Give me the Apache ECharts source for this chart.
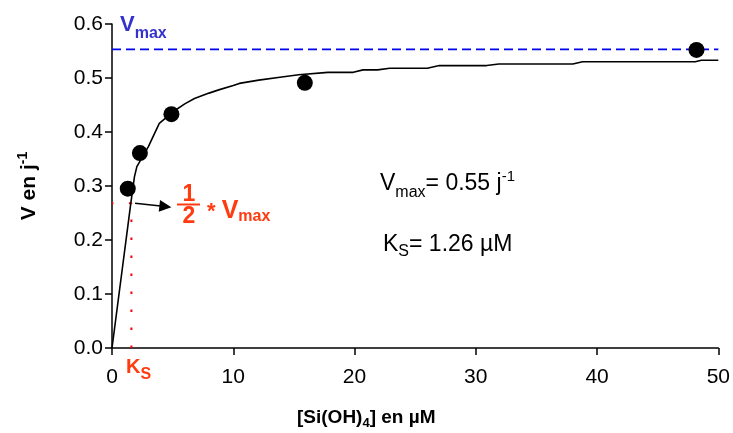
<!DOCTYPE html>
<html>
<head>
<meta charset="utf-8">
<script src="https://cdn.jsdelivr.net/npm/echarts@6/dist/echarts.min.js"></script>
<style>
html,body{margin:0;padding:0;background:#fff;}
#chart{width:733px;height:433px;}
</style>
</head>
<body>
<div id="chart"></div>
<script>
// ---- data ----
const pointS = [1.3, 2.3, 4.9, 15.9, 48.2];
const pointV = [0.295, 0.361, 0.433, 0.491, 0.552];
const fitS = [0, 1.55, 1.85, 2.05, 3, 3.9, 5, 6, 6.8, 8, 8.8, 10, 10.5, 12.1, 14, 15.4, 17.8, 19.9, 20.7, 21.9, 22.9, 26, 27, 30.9, 31.9, 38, 38.8, 48.1, 48.6, 50];
const fitV = [0, 0.268, 0.317, 0.336, 0.373, 0.416, 0.437, 0.452, 0.462, 0.472, 0.478, 0.486, 0.49, 0.496, 0.502, 0.506, 0.5105, 0.5105, 0.515, 0.515, 0.518, 0.518, 0.523, 0.523, 0.526, 0.526, 0.53, 0.53, 0.533, 0.533];
const vmaxLine = 0.553;
const halfVmax = 0.268;
const ksPos = 1.6;
const arrowFrom = [1.9, 0.268];
const arrowTo = [4.4, 0.262];
const xTicks = [0, 10, 20, 30, 40, 50];
const yTicks = [0, 0.1, 0.2, 0.3, 0.4, 0.5, 0.6];

const FONT = '"Liberation Sans", Arial, sans-serif';
const RED = '#ff3b10';
const BLUE = '#3333cc';

const cv = document.createElement('canvas').getContext('2d');
function measure(t, size, bold) {
  cv.font = (bold ? 'bold ' : '') + size + 'px ' + FONT;
  return cv.measureText(t).width;
}
// pieces: {t, size, bold, dy, color}; returns graphic elements
function textRun(x0, baseY, pieces, align) {
  let total = 0;
  pieces.forEach(p => { p.w = measure(p.t, p.size, p.bold); total += p.w; });
  let x = align === 'center' ? x0 - total / 2 : x0;
  const els = [];
  pieces.forEach(p => {
    els.push({
      type: 'text', x: x, y: baseY + (p.dy || 0) - 0.35 * p.size, silent: true,
      style: {
        text: p.t, fontFamily: FONT, fontSize: p.size, fontWeight: p.bold ? 'bold' : 'normal',
        fill: p.color || '#000', align: 'left', verticalAlign: 'middle'
      }
    });
    x += p.w;
  });
  return els;
}

const chart = echarts.init(document.getElementById('chart'), null, {renderer: 'canvas'});

const graphics = [];
// Vmax label (blue)
textRun(120, 33, [
  {t: 'V', size: 22, bold: true, color: BLUE},
  {t: 'max', size: 16, bold: true, color: BLUE, dy: 6}
], 'left').forEach(e => graphics.push(e));
// 1/2 * Vmax (red)
textRun(189, 203, [{t: '1', size: 23, bold: true, color: RED}], 'center').forEach(e => graphics.push(e));
textRun(189, 225, [{t: '2', size: 23, bold: true, color: RED}], 'center').forEach(e => graphics.push(e));
graphics.push({type: 'rect', shape: {x: 177, y: 203.5, width: 23, height: 2}, style: {fill: RED}, silent: true});
textRun(207, 220, [
  {t: '* ', size: 22, bold: true, color: RED},
  {t: 'V', size: 25, bold: true, color: RED},
  {t: 'max', size: 16, bold: true, color: RED, dy: 2}
], 'left').forEach(e => graphics.push(e));
// Ks label under axis
textRun(126, 374, [
  {t: 'K', size: 20, bold: true, color: RED},
  {t: 'S', size: 16, bold: true, color: RED, dy: 6}
], 'left').forEach(e => graphics.push(e));
// middle texts
textRun(380, 192, [
  {t: 'V', size: 23},
  {t: 'max', size: 16, dy: 6},
  {t: '= 0.55 j', size: 23},
  {t: '-1', size: 15, dy: -10}
], 'left').forEach(e => graphics.push(e));
textRun(383, 253, [
  {t: 'K', size: 23},
  {t: 'S', size: 16, dy: 4},
  {t: '= 1.26 \u00b5M', size: 23}
], 'left').forEach(e => graphics.push(e));
// x axis name
textRun(297, 424, [
  {t: '[Si(OH)', size: 19, bold: true},
  {t: '4', size: 13, bold: true, dy: 4},
  {t: '] en \u00b5M', size: 19, bold: true}
], 'left').forEach(e => graphics.push(e));
// y axis name (rotated)
graphics.push({
  type: 'group', x: 37, y: 186, rotation: Math.PI / 2,
  children: textRun(0, 0, [
    {t: 'V en j', size: 21, bold: true},
    {t: '-1', size: 14, bold: true, dy: -9}
  ], 'center')
});

const option = {
  animation: false,
  backgroundColor: '#fff',
  grid: {left: 112, top: 24, right: 9.5, bottom: 85, containLabel: false},
  xAxis: {
    type: 'value', min: xTicks[0], max: xTicks[xTicks.length - 1], interval: 10,
    splitLine: {show: false},
    axisLine: {lineStyle: {color: '#000', width: 1.5}, onZero: false},
    axisTick: {show: true, length: 7, lineStyle: {color: '#000', width: 1.5}},
    axisLabel: {color: '#000', fontSize: 21, fontFamily: FONT, margin: 19}
  },
  yAxis: {
    type: 'value', min: yTicks[0], max: yTicks[yTicks.length - 1], interval: 0.1,
    splitLine: {show: false},
    axisLine: {show: true, lineStyle: {color: '#000', width: 1.5}, onZero: false},
    axisTick: {show: true, length: 7, lineStyle: {color: '#000', width: 1.5}},
    axisLabel: {color: '#000', fontSize: 21, fontFamily: FONT, margin: 9, formatter: v => v.toFixed(1)}
  },
  series: [
    {
      type: 'line', data: [[xTicks[0], vmaxLine], [xTicks[xTicks.length - 1], vmaxLine]],
      symbol: 'none', lineStyle: {color: '#0000ee', width: 1.6, type: [9, 5]}, z: 1
    },
    {
      type: 'line', data: [[ksPos, halfVmax], [0, halfVmax]],
      symbol: 'none', lineStyle: {color: '#ff0000', width: 2, type: [2.5, 15.5]}, z: 1
    },
    {
      type: 'line', data: [[ksPos, 0], [ksPos, halfVmax]],
      symbol: 'none', lineStyle: {color: '#ff0000', width: 2, type: [2.5, 15.5]}, z: 1
    },
    {
      type: 'line', data: fitS.map((s, i) => [s, fitV[i]]),
      symbol: 'none', smooth: false, lineStyle: {color: '#000', width: 1.6}, z: 2,
      markLine: {
        silent: true, symbol: ['none', 'triangle'], symbolSize: [12, 12],
        label: {show: false},
        lineStyle: {color: '#000', width: 1.5, type: 'solid'},
        data: [[{coord: arrowFrom}, {coord: arrowTo}]]
      }
    },
    {
      type: 'scatter', data: pointS.map((s, i) => [s, pointV[i]]),
      symbol: 'circle', symbolSize: 16, itemStyle: {color: '#000', opacity: 1}, z: 3
    }
  ],
  graphic: graphics
};
chart.setOption(option);
</script>
</body>
</html>
